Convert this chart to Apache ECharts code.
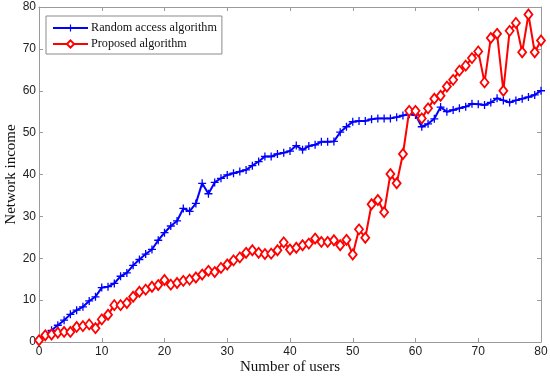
<!DOCTYPE html>
<html>
<head>
<meta charset="utf-8">
<script src="https://cdn.jsdelivr.net/npm/echarts@6/dist/echarts.min.js"></script>
<style>html,body{margin:0;padding:0;background:#fff}#c{width:550px;height:379px}</style>
</head>
<body>
<div id="c"></div>
<script>
var users = [];
for (var i = 0; i <= 80; i++) users.push(i);
var randomAccess = [0.6,1.8,2.8,4.0,5.2,6.6,7.6,8.4,9.8,10.8,13.0,13.2,14.0,15.7,16.5,18.3,19.7,21.0,22.1,24.3,
  26.1,27.7,28.9,31.9,31.2,33.1,37.9,35.4,38.1,39.1,39.9,40.3,40.7,41.1,42.1,43.1,44.3,44.3,44.9,45.2,
  45.6,46.9,45.9,46.8,47.1,47.8,47.8,47.9,50.1,51.4,52.6,52.8,52.8,53.2,53.4,53.4,53.4,53.7,54.1,54.4,
  54.2,51.4,52.1,53.3,56.1,55.0,55.4,55.8,56.2,56.9,56.8,56.6,57.2,58.2,57.7,57.2,57.7,58.1,58.5,59.0,60.0];
var proposed = [0.4,1.6,1.8,2.2,2.4,2.4,3.6,3.8,4.2,3.3,5.4,6.5,8.8,8.8,9.3,10.8,12.0,12.5,13.2,13.6,
  14.8,13.7,14.1,14.6,14.9,15.4,16.1,17.0,16.7,17.7,18.5,19.5,20.2,21.3,21.9,21.3,21.0,21.1,21.9,23.8,
  22.1,22.5,23.1,23.5,24.7,23.9,23.9,24.3,23.1,24.4,20.9,26.9,24.9,32.9,33.9,31.0,40.1,37.9,44.9,55.2,
  55.2,53.4,55.8,58.1,58.8,61.0,62.6,64.8,66.0,67.8,69.4,62.0,72.6,73.6,60.0,74.3,76.2,69.2,78.2,69.2,72.0];
var xTicks = [0,10,20,30,40,50,60,70,80];
var yTicks = [0,10,20,30,40,50,60,70,80];

var plusPath = 'path://M4.2,0 H5.8 V4.2 H10 V5.8 H5.8 V10 H4.2 V5.8 H0 V4.2 H4.2 Z';
var chart = echarts.init(document.getElementById('c'), null, {renderer: 'canvas'});
var axisCommon = {
  min: 0, max: 80, interval: 10,
  axisLine: {show: true, onZero: false, lineStyle: {color: '#9a9a9a', width: 1}},
  axisTick: {show: true, inside: true, length: 4, lineStyle: {color: '#9a9a9a'}},
  splitLine: {show: false}
};
chart.setOption({
  animation: false,
  backgroundColor: '#fff',
  grid: {left: 39, right: 9, top: 7, bottom: 37, containLabel: false, outerBoundsMode: 'none'},
  legend: {
    left: 46, top: 16, orient: 'vertical',
    backgroundColor: '#fff', borderColor: '#8a8a8a', borderWidth: 1,
    padding: [6, 5, 4, 6], itemGap: 4, itemWidth: 35, itemHeight: 9,
    textStyle: {fontFamily: 'Liberation Serif', fontSize: 12.2, color: '#111', padding: [0, 0, 0, -2]},
    data: ['Random access algorithm', 'Proposed algorithm']
  },
  xAxis: [
    Object.assign({type: 'value', position: 'bottom',
      name: 'Number of users', nameLocation: 'middle', nameGap: 18, nameMoveOverlap: false,
      nameTextStyle: {fontFamily: 'Liberation Serif', fontSize: 15, color: '#111'},
      axisLabel: {fontFamily: 'Liberation Sans', fontSize: 12, color: '#222', margin: 4,
        formatter: function (v) { return xTicks.indexOf(v) >= 0 ? String(v) : ''; }}
    }, axisCommon),
    Object.assign({type: 'value', position: 'top', axisLabel: {show: false}}, axisCommon)
  ],
  yAxis: [
    Object.assign({type: 'value', position: 'left',
      name: 'Network income', nameLocation: 'middle', nameGap: 20, nameMoveOverlap: false,
      nameTextStyle: {fontFamily: 'Liberation Serif', fontSize: 15, color: '#111'},
      axisLabel: {fontFamily: 'Liberation Sans', fontSize: 12, color: '#222', margin: 3,
        formatter: function (v) { return yTicks.indexOf(v) >= 0 ? String(v) : ''; }}
    }, axisCommon),
    Object.assign({type: 'value', position: 'right', axisLabel: {show: false}}, axisCommon)
  ],
  series: [
    {
      name: 'Random access algorithm', type: 'line',
      data: users.map(function (u, i) { return [u, randomAccess[i]]; }),
      lineStyle: {color: '#0000ff', width: 2},
      itemStyle: {color: '#0000ff'},
      symbol: plusPath, symbolSize: 8, showAllSymbol: true, z: 3
    },
    {
      name: 'Proposed algorithm', type: 'line',
      data: users.map(function (u, i) { return [u, proposed[i]]; }),
      lineStyle: {color: '#ff0000', width: 2},
      itemStyle: {color: '#ffffff', borderColor: '#ff0000', borderWidth: 1.8},
      symbol: 'diamond', symbolSize: [8, 10], showAllSymbol: true, z: 4
    }
  ]
});
</script>
</body>
</html>
